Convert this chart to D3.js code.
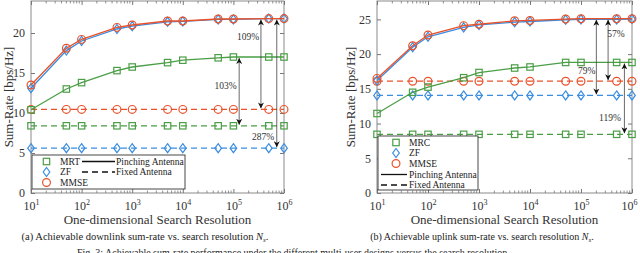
<!DOCTYPE html>
<html>
<head>
<meta charset="utf-8">
<script src="https://cdn.jsdelivr.net/npm/d3@7/dist/d3.min.js"></script>
<style>
  html, body { margin: 0; padding: 0; background: #fff; }
  svg, svg text { font-family: "Liberation Serif", "DejaVu Serif", serif; }
  svg { display: block; }
</style>
</head>
<body>
<div id="chart"></div>
<script>
// search resolutions N_s
const resolution = [10, 50, 100, 500, 1000, 5000, 1e4, 5e4, 1e5, 5e5, 1e6];

// (a) downlink sum-rate [bps/Hz]
const dlMrtPinch  = [10.4, 13.0, 13.8, 15.3, 15.75, 16.3, 16.6, 16.9, 17.0, 17.0, 17.0];
const dlZfPinch   = [13.1, 17.8, 19.0, 20.5, 20.85, 21.4, 21.45, 21.7, 21.7, 21.8, 21.8];
const dlMmsePinch = [13.5, 18.1, 19.2, 20.7, 21.0, 21.5, 21.5, 21.75, 21.75, 21.8, 21.8];
const dlMrtFixed  = 8.4;
const dlZfFixed   = 5.6;
const dlMmseFixed = 10.45;

// (b) uplink sum-rate [bps/Hz]
const ulMrcPinch  = [11.45, 14.5, 15.25, 16.6, 17.35, 18.0, 18.15, 18.8, 18.8, 18.8, 18.8];
const ulZfPinch   = [16.2, 21.0, 22.5, 23.85, 24.2, 24.6, 24.7, 24.95, 25.0, 25.0, 25.05];
const ulMmsePinch = [16.5, 21.2, 22.75, 24.1, 24.3, 24.8, 24.85, 25.05, 25.1, 25.1, 25.1];
const ulMrcFixed  = 8.45;
const ulZfFixed   = 14.05;
const ulMmseFixed = 16.1;

const xTicks = [1e1, 1e2, 1e3, 1e4, 1e5, 1e6];
const dlYTicks = [0, 5, 10, 15, 20];
const ulYTicks = [0, 5, 10, 15, 20, 25];

// gain annotations: [x, yTop, yBottom, label, labelX, labelY]
const dlGains = [
  [3.5e5, 21.8, 10.45, '109%', 1.95e5, 19.6],
  [1.3e5, 17.0, 8.4, '103%', 7.0e4, 13.4],
  [7.2e5, 21.8, 5.6, '287%', 3.85e5, 7.1]
];
const ulGains = [
  [3.4e5, 25.1, 16.1, '57%', 4.85e5, 23.0],
  [2.0e5, 25.1, 14.05, '79%', 1.29e5, 17.55],
  [7.1e5, 18.8, 8.45, '119%', 3.7e5, 10.8]
];

const colors = { green: '#4a9e45', blue: '#3a8de0', red: '#e8512a' };
const serif = '"Liberation Serif", "DejaVu Serif", serif';

const width = 640, height = 253;
const svg = d3.select('#chart').append('svg')
  .attr('width', width).attr('height', height);

const defs = svg.append('defs');
['start', 'end'].forEach(function(k) {
  defs.append('marker')
    .attr('id', 'head-' + k)
    .attr('viewBox', '0 0 10 10')
    .attr('refX', 10).attr('refY', 5)
    .attr('markerWidth', 6).attr('markerHeight', 6)
    .attr('markerUnits', 'userSpaceOnUse')
    .attr('orient', k === 'start' ? 'auto-start-reverse' : 'auto')
    .append('path')
    .attr('d', 'M0,0 L10,5 L0,10 L3,5 Z')
    .attr('fill', '#111');
});

function drawMarker(g, shape, cx, cy, color) {
  if (shape === 'square') {
    g.append('rect').attr('x', cx - 3.2).attr('y', cy - 3.2)
      .attr('width', 6.4).attr('height', 6.4)
      .attr('fill', 'none').attr('stroke', color).attr('stroke-width', 1.2);
  } else if (shape === 'diamond') {
    g.append('path')
      .attr('d', 'M' + cx + ',' + (cy - 4.5) + ' L' + (cx + 3.3) + ',' + cy +
        ' L' + cx + ',' + (cy + 4.5) + ' L' + (cx - 3.3) + ',' + cy + ' Z')
      .attr('fill', 'none').attr('stroke', color).attr('stroke-width', 1.2);
  } else {
    g.append('circle').attr('cx', cx).attr('cy', cy).attr('r', 3.9)
      .attr('fill', 'none').attr('stroke', color).attr('stroke-width', 1.2);
  }
}

function drawPanel(cfg) {
  const x = d3.scaleLog().domain([10, 1e6]).range([cfg.left, cfg.right]);
  const y = d3.scaleLinear().domain(cfg.yDomain).range([cfg.bottom, cfg.top]);
  const g = svg.append('g');

  // frame
  g.append('rect')
    .attr('x', cfg.left).attr('y', cfg.top)
    .attr('width', cfg.right - cfg.left).attr('height', cfg.bottom - cfg.top)
    .attr('fill', 'none').attr('stroke', '#8a8a8a').attr('stroke-width', 1);

  // minor log ticks
  const minor = [];
  for (let e = 1; e < 6; e++) {
    for (let k = 2; k <= 9; k++) minor.push(k * Math.pow(10, e));
  }
  [[cfg.bottom, -1], [cfg.top, 1]].forEach(function(p) {
    g.selectAll(null).data(minor).enter().append('line')
      .attr('x1', d => x(d)).attr('x2', d => x(d))
      .attr('y1', p[0]).attr('y2', p[0] + p[1] * 2.5)
      .attr('stroke', '#777').attr('stroke-width', 0.8);
  });

  // x axis
  const xAxis = g.append('g')
    .attr('transform', 'translate(0,' + cfg.bottom + ')')
    .call(d3.axisBottom(x).tickValues(xTicks).tickSize(-4).tickFormat(''))
    .attr('font-family', serif);
  xAxis.select('.domain').remove();
  xAxis.selectAll('line').attr('stroke', '#777');
  xAxis.selectAll('.tick').each(function(d) {
    const t = d3.select(this).append('text')
      .attr('y', 17).attr('fill', '#333').attr('text-anchor', 'middle')
      .style('font-size', '12px');
    t.append('tspan').text('10');
    t.append('tspan').attr('dy', -5).style('font-size', '8px')
      .text(Math.round(Math.log10(d)));
    // keep the last label inside the page
    const box = this.getBBox();
    const absRight = x(d) + box.x + box.width;
    if (absRight > width - 3) t.attr('x', width - 3 - absRight);
  });
  g.append('g').attr('transform', 'translate(0,' + cfg.top + ')')
    .call(d3.axisTop(x).tickValues(xTicks).tickSize(-4).tickFormat(''))
    .call(s => s.select('.domain').remove())
    .selectAll('line').attr('stroke', '#777');

  // y axes
  const yAxis = g.append('g')
    .attr('transform', 'translate(' + cfg.left + ',0)')
    .call(d3.axisLeft(y).tickValues(cfg.yTicks).tickSize(-4).tickPadding(6))
    .attr('font-family', serif);
  yAxis.select('.domain').remove();
  yAxis.selectAll('line').attr('stroke', '#777');
  yAxis.selectAll('text').attr('fill', '#333').style('font-size', '12px');
  g.append('g').attr('transform', 'translate(' + cfg.right + ',0)')
    .call(d3.axisRight(y).tickValues(cfg.yTicks).tickSize(-4).tickFormat(''))
    .call(s => s.select('.domain').remove())
    .selectAll('line').attr('stroke', '#777');

  // axis titles
  g.append('text')
    .attr('transform', 'translate(' + cfg.yLabelX + ',' + ((cfg.top + cfg.bottom) / 2) + ') rotate(-90)')
    .attr('text-anchor', 'middle').attr('fill', '#333')
    .style('font-size', '13px').text('Sum-Rate [bps/Hz]');
  g.append('text')
    .attr('x', (cfg.left + cfg.right) / 2).attr('y', 224)
    .attr('text-anchor', 'middle').attr('fill', '#333')
    .style('font-size', '13px').text('One-dimensional Search Resolution');

  // caption
  const cap = g.append('text')
    .attr('x', cfg.capX).attr('y', 240)
    .attr('text-anchor', 'middle').attr('fill', '#222')
    .style('font-size', cfg.capSize);
  cap.append('tspan').text(cfg.caption);
  cap.append('tspan').style('font-style', 'italic').text('N');
  cap.append('tspan').attr('dy', 2).style('font-size', '7px').style('font-style', 'italic').text('s');
  cap.append('tspan').attr('dy', -2).text('.');

  // series
  const line = d3.line().x((d, i) => x(resolution[i])).y(d => y(d));
  cfg.series.forEach(function(s) {
    const vals = Array.isArray(s.values) ? s.values : resolution.map(() => s.values);
    g.append('path').datum(vals)
      .attr('d', line)
      .attr('fill', 'none').attr('stroke', s.color).attr('stroke-width', 1.3)
      .attr('stroke-dasharray', s.dashed ? '6,4' : null);
    vals.forEach(function(v, i) {
      drawMarker(g, s.shape, x(resolution[i]), y(v), s.color);
    });
  });

  // gain arrows
  cfg.gains.forEach(function(a) {
    g.append('line')
      .attr('x1', x(a[0])).attr('x2', x(a[0]))
      .attr('y1', y(a[1]) + 1).attr('y2', y(a[2]) - 1)
      .attr('stroke', '#444').attr('stroke-width', 0.8)
      .attr('marker-start', 'url(#head-start)')
      .attr('marker-end', 'url(#head-end)');
    g.append('text')
      .attr('x', x(a[4])).attr('y', y(a[5]))
      .attr('dy', '0.35em').attr('text-anchor', 'middle')
      .attr('fill', '#333').style('font-size', '9.5px')
      .text(a[3]);
  });

  // legend
  const lg = cfg.legend;
  g.append('rect')
    .attr('x', lg.x).attr('y', lg.y).attr('width', lg.w).attr('height', lg.h)
    .attr('fill', '#fff').attr('stroke', '#333').attr('stroke-width', 0.9);
  lg.items.forEach(function(it) {
    if (it.shape) {
      drawMarker(g, it.shape, it.mx, it.y, it.color);
    } else {
      g.append('line')
        .attr('x1', it.lx1).attr('x2', it.lx2).attr('y1', it.y).attr('y2', it.y)
        .attr('stroke', '#111').attr('stroke-width', 1.3)
        .attr('stroke-dasharray', it.dashed ? '6,4' : null);
    }
    g.append('text')
      .attr('x', it.tx).attr('y', it.y).attr('dy', '0.35em')
      .attr('fill', '#222').style('font-size', '9.5px').text(it.label);
  });
}

drawPanel({
  left: 31, right: 284, top: 1, bottom: 193,
  yDomain: [0, 24], yTicks: dlYTicks, yLabelX: 13,
  capX: 145, capSize: '10.5px', caption: '(a) Achievable downlink sum-rate vs. search resolution ',
  series: [
    { values: dlMrtFixed, color: colors.green, shape: 'square', dashed: true },
    { values: dlZfFixed, color: colors.blue, shape: 'diamond', dashed: true },
    { values: dlMmseFixed, color: colors.red, shape: 'circle', dashed: true },
    { values: dlMrtPinch, color: colors.green, shape: 'square' },
    { values: dlZfPinch, color: colors.blue, shape: 'diamond' },
    { values: dlMmsePinch, color: colors.red, shape: 'circle' }
  ],
  gains: dlGains,
  legend: {
    x: 32, y: 155, w: 153, h: 34,
    items: [
      { shape: 'square', color: colors.green, mx: 46.5, y: 161.5, tx: 60, label: 'MRT' },
      { shape: 'diamond', color: colors.blue, mx: 46.5, y: 172, tx: 60, label: 'ZF' },
      { shape: 'circle', color: colors.red, mx: 46.5, y: 182.5, tx: 60, label: 'MMSE' },
      { lx1: 82, lx2: 115, y: 161.5, tx: 116, label: 'Pinching Antenna' },
      { lx1: 82, lx2: 115, y: 172, tx: 116, label: 'Fixed Antenna', dashed: true }
    ]
  }
});

drawPanel({
  left: 377, right: 632, top: 1, bottom: 193,
  yDomain: [0, 27.65], yTicks: ulYTicks, yLabelX: 355,
  capX: 482, capSize: '10px', caption: '(b) Achievable uplink sum-rate vs. search resolution ',
  series: [
    { values: ulMrcFixed, color: colors.green, shape: 'square', dashed: true },
    { values: ulZfFixed, color: colors.blue, shape: 'diamond', dashed: true },
    { values: ulMmseFixed, color: colors.red, shape: 'circle', dashed: true },
    { values: ulMrcPinch, color: colors.green, shape: 'square' },
    { values: ulZfPinch, color: colors.blue, shape: 'diamond' },
    { values: ulMmsePinch, color: colors.red, shape: 'circle' }
  ],
  gains: ulGains,
  legend: {
    x: 378, y: 136, w: 100, h: 54,
    items: [
      { shape: 'square', color: colors.green, mx: 396, y: 142.5, tx: 409, label: 'MRC' },
      { shape: 'diamond', color: colors.blue, mx: 396, y: 153, tx: 409, label: 'ZF' },
      { shape: 'circle', color: colors.red, mx: 396, y: 163.5, tx: 409, label: 'MMSE' },
      { lx1: 381, lx2: 407, y: 174.5, tx: 409, label: 'Pinching Antenna' },
      { lx1: 381, lx2: 407, y: 185, tx: 409, label: 'Fixed Antenna', dashed: true }
    ]
  }
});

// figure caption line, cut off by the bottom edge as in the source page
svg.append('text')
  .attr('x', 77).attr('y', 256)
  .attr('fill', '#222').style('font-size', '10px')
  .text('Fig. 3: Achievable sum-rate performance under the different multi-user designs versus the search resolution.');
</script>
</body>
</html>
